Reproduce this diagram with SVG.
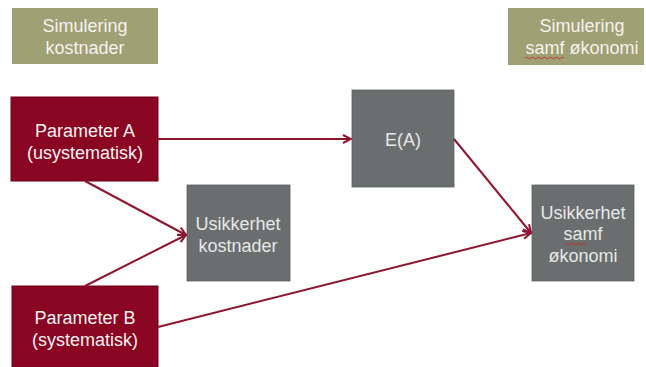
<svg xmlns="http://www.w3.org/2000/svg" width="646" height="367" viewBox="0 0 646 367">
<style>
.hdr{fill:#9fa073;}
.red{fill:#8a0522;stroke:#6e0019;stroke-width:1;}
.grey{fill:#6a6e6e;stroke:#5c6060;stroke-width:0.8;}
text{font-family:"Liberation Sans",Arial,sans-serif;font-size:18px;text-anchor:middle;}
.t{fill:#f6f2f0;}
.tg{fill:#e6e8e8;}
.conn line{stroke:#8e1530;stroke-width:2;fill:none;marker-end:url(#ah);}
</style>
<defs>
<marker id="ah" viewBox="0 0 10 10" refX="9" refY="5" markerWidth="5" markerHeight="5" orient="auto" markerUnits="strokeWidth">
<path d="M1,1 L9,5 L1,9" fill="none" stroke="#8e1530" stroke-width="2"/>
</marker>
</defs>
<rect width="646" height="367" fill="#ffffff"/>
<g id="hdr-kostnader">
<rect class="hdr" x="12" y="8" width="146" height="56"/>
<text class="t" x="85" y="32">Simulering</text>
<text class="t" x="85" y="54">kostnader</text>
</g>
<g id="hdr-samf">
<rect class="hdr" x="508" y="8" width="136" height="57"/>
<text class="t" x="582" y="32">Simulering</text>
<text class="t" x="582" y="54">samf økonomi</text>
<path d="M525,58 q1.5,-1.5 3,0 t3,0 t3,0 t3,0 t3,0 t3,0 t3,0 t3,0 t3,0 t3,0 t3,0 t3,0 t3,0" fill="none" stroke="#cc2020" stroke-width="0.8"/>
</g>
<g id="paramA">
<rect class="red" x="11" y="97" width="147" height="84"/>
<text class="t" x="85" y="137">Parameter A</text>
<text class="t" x="85" y="159">(usystematisk)</text>
</g>
<g id="paramB">
<rect class="red" x="12" y="286" width="146" height="81"/>
<text class="t" x="85" y="324">Parameter B</text>
<text class="t" x="85" y="346">(systematisk)</text>
</g>
<g id="usik-kost">
<rect class="grey" x="187" y="185" width="103" height="96"/>
<text class="tg" x="238" y="230">Usikkerhet</text>
<text class="tg" x="238" y="252">kostnader</text>
</g>
<g id="EA">
<rect class="grey" x="352" y="90" width="102" height="97"/>
<text class="tg" x="403" y="146">E(A)</text>
</g>
<g id="usik-samf">
<rect class="grey" x="532" y="185" width="102" height="96"/>
<text class="tg" x="583" y="219">Usikkerhet</text>
<text class="tg" x="583" y="240">samf</text>
<text class="tg" x="583" y="262">økonomi</text>
<path d="M565,244 q1.5,-1.5 3,0 t3,0 t3,0 t3,0 t3,0 t3,0 t3,0" fill="none" stroke="#cc2020" stroke-width="0.8"/>
</g>
<g class="conn" id="connectors">
<line x1="158" y1="139" x2="351" y2="139"/>
<line x1="85" y1="181" x2="186" y2="235"/>
<line x1="85" y1="286" x2="186" y2="235"/>
<line x1="454" y1="139" x2="531" y2="233"/>
<line x1="158" y1="327" x2="531" y2="233"/>
</g>
</svg>
